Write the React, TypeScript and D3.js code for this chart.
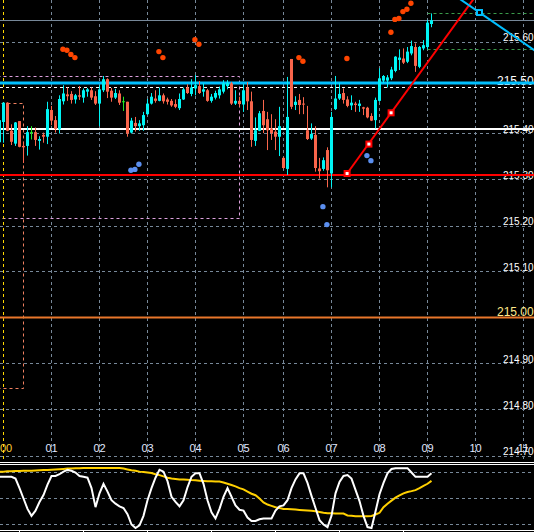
import React from "react";
import * as d3 from "d3";

const W = 534;
const H = 532;
const MAIN_BOTTOM = 462;
const SUB_TOP = 465;

// bar index of the first element in the OHLC arrays (5-minute bars, 0 = 00:00)
const firstBar = -1;
const opens = [215.381,215.425,215.467,215.406,215.378,215.427,215.373,215.373,215.402,215.403,215.384,215.397,215.393,215.451,215.429,215.409,215.470,215.485,215.486,215.474,215.483,215.478,215.491,215.494,215.481,215.465,215.494,215.518,215.493,215.478,215.487,215.469,215.469,215.402,215.423,215.416,215.418,215.442,215.465,215.476,215.471,215.483,215.474,215.471,215.464,215.455,215.474,215.500,215.486,215.498,215.503,215.491,215.494,215.471,215.478,215.483,215.491,215.503,215.509,215.465,215.471,215.463,215.500,215.470,215.384,215.406,215.449,215.431,215.411,215.404,215.393,215.347,215.323,215.562,215.462,215.473,215.465,215.407,215.389,215.397,215.324,215.323,215.364,215.313,215.453,215.476,215.488,215.474,215.461,215.465,215.460,215.457,215.456,215.438,215.429,215.471,215.515,215.515,215.520,215.536,215.560,215.563,215.556,215.574,215.588,215.545,215.585,215.588,215.638];
const highs = [215.433,215.468,215.468,215.420,215.425,215.427,215.382,215.416,215.416,215.413,215.394,215.402,215.469,215.460,215.438,215.483,215.505,215.500,215.492,215.486,215.503,215.498,215.499,215.500,215.492,215.505,215.525,215.520,215.499,215.497,215.494,215.480,215.469,215.434,215.436,215.429,215.447,215.475,215.488,215.494,215.500,215.487,215.478,215.475,215.474,215.487,215.500,215.507,215.518,215.527,215.514,215.509,215.497,215.486,215.493,215.502,215.516,215.516,215.512,215.494,215.480,215.507,215.512,215.491,215.435,215.449,215.473,215.447,215.442,215.431,215.458,215.349,215.523,215.562,215.481,215.486,215.479,215.460,215.422,215.416,215.347,215.348,215.370,215.447,215.525,215.510,215.498,215.481,215.483,215.469,215.473,215.458,215.458,215.444,215.478,215.542,215.527,215.527,215.545,215.568,215.583,215.585,215.588,215.602,215.596,215.590,215.603,215.647,215.661];
const lows = [215.372,215.380,215.405,215.375,215.373,215.370,215.336,215.352,215.387,215.373,215.365,215.380,215.377,215.418,215.402,215.400,215.463,215.471,215.465,215.465,215.473,215.467,215.480,215.473,215.462,215.416,215.490,215.477,215.469,215.475,215.462,215.449,215.393,215.400,215.404,215.406,215.406,215.440,215.463,215.467,215.470,215.465,215.463,215.458,215.455,215.451,215.473,215.486,215.481,215.483,215.486,215.480,215.469,215.467,215.474,215.476,215.487,215.496,215.462,215.462,215.458,215.447,215.451,215.371,215.373,215.405,215.401,215.364,215.386,215.364,215.351,215.323,215.310,215.453,215.451,215.442,215.442,215.386,215.386,215.317,215.302,215.319,215.283,215.283,215.451,215.473,215.465,215.457,215.451,215.447,215.447,215.440,215.433,215.427,215.411,215.469,215.510,215.500,215.516,215.533,215.538,215.551,215.553,215.570,215.534,215.542,215.581,215.583,215.631];
const closes = [215.429,215.467,215.406,215.382,215.424,215.371,215.370,215.403,215.402,215.386,215.388,215.393,215.453,215.428,215.410,215.475,215.487,215.481,215.473,215.483,215.480,215.494,215.496,215.478,215.465,215.496,215.518,215.491,215.478,215.488,215.467,215.469,215.400,215.428,215.416,215.422,215.440,215.465,215.480,215.471,215.483,215.470,215.469,215.461,215.458,215.475,215.496,215.488,215.500,215.505,215.488,215.496,215.471,215.480,215.488,215.496,215.509,215.510,215.465,215.471,215.464,215.494,215.470,215.386,215.407,215.444,215.418,215.407,215.401,215.393,215.416,215.325,215.436,215.458,215.469,215.462,215.463,215.388,215.399,215.325,215.318,215.342,215.320,215.436,215.476,215.486,215.473,215.460,215.467,215.462,215.465,215.454,215.435,215.428,215.473,215.520,215.525,215.522,215.539,215.567,215.565,215.554,215.578,215.590,215.547,215.588,215.592,215.641,215.646];

// oscillator sub-window (same bar indexing as above)
const oscMain = [75,75,75,75,73,62,50,38,30,36,46,54,66,76,76,78,81,83,82,80,76,75,74,62,40,56,67,58,48,44,41,39,32,20,16,19,30,48,62,74,83,81,70,52,46,41,48,63,75,79,79,67,48,34,27,38,52,62,52,42,37,36,28,24,24,26,27,27,27,36,41,42,48,62,72,79,79,68,53,39,25,20,17,30,56,69,76,77,73,60,47,30,17,16,35,55,68,79,84,85,85,85,85,80,75,75,75,75,79];
const oscSignal = [81,81,81.5,81.5,81.7,81.8,82,82,82,82.3,82.6,82.8,83,83.2,83.5,83.8,84.1,84.5,84.7,84.9,85,85.2,85.2,85.2,85.2,85.2,85.2,85.2,85.2,85.2,85.2,84.5,83.5,82.5,82,81,80.5,80,79.5,78,77,75.5,74,73,72.5,72,71.8,71.5,71.2,71,70.6,70.3,70,69.8,69.6,69.5,68.5,67,65.5,64,62,60.5,58,55.5,53.8,50,45.5,43,41.5,40,39,38,37.8,37.5,37.2,36.8,36.5,36.2,35.8,35.3,34.5,33.5,33,32.9,32.8,32.7,32.6,30.5,30,29.6,29.5,29.5,29.5,29.8,31.5,33.5,40,44,47.5,51,53.5,56,57.5,58.5,59.7,62,64.5,67,70.3];
const oscLevels = [80, 50, 20];

const timeLabels = ["00", "01", "02", "03", "04", "05", "06", "07", "08", "09", "10", "11"];
const timeLabelBars = [0, 12, 24, 36, 48, 60, 70, 82, 94, 106, 118, 130];
const priceTicks = [215.6, 215.5, 215.4, 215.3, 215.2, 215.1, 215.0, 214.9, 214.8, 214.7];
const priceTickLabels = ["215.60", "215.50", "215.40", "215.30", "215.20", "215.10", "215.00", "214.90", "214.80", "214.70"];
const bottomTickBars = [4, 20, 36, 52, 68, 84, 100];

const bidPrice = 215.646;
const levelCyan = 215.51;
const levelWhite = 215.41;
const levelRed = 215.31;
const levelOrange = 215.0;

const upDotBars = [15, 16, 17, 18, 39, 40, 48, 49, 74, 75, 86, 97, 98, 99, 100, 101, 102];
const upDotPrices = [215.583, 215.581, 215.572, 215.565, 215.578, 215.565, 215.604, 215.594, 215.565, 215.557, 215.563, 215.62, 215.648, 215.65, 215.665, 215.67, 215.683];
const downDotBars = [32, 33, 34, 80, 81, 91, 92];
const downDotPrices = [215.32, 215.322, 215.333, 215.241, 215.202, 215.352, 215.341];

const redTrendBars = [85.9, 91.35, 96.9];
const redTrendPrices = [215.313, 215.377, 215.445];
const cyanTrendBars = [119, 132.7];
const cyanTrendPrices = [215.663, 215.581];

const pinkBoxBars = [-3, 59];
const pinkBoxPrices = [215.524, 215.217];
const orangeBoxBars = [-5, 5];
const orangeBoxPrices = [215.467, 214.846];
const greenRangeBar = 106;
const greenRangePrices = [215.661, 215.583];
const separatorBar = 0;

export default function App() {
  const x = d3.scaleLinear().domain([0, 130]).range([3.5, 523.5]);
  const y = d3.scaleLinear().domain([214.7, 215.6]).range([455.5, 41.5]);
  const ys = d3.scaleLinear().domain([20, 80]).range([524.5, 472.5]);

  const bull = "#00f4f4";
  const bear = "#f9654b";
  const doji = "#22e622";
  const grid = "#778899";
  const font = "'Liberation Sans', Arial, sans-serif";

  const bars = opens.map((o, i) => ({ k: i + firstBar, o, h: highs[i], l: lows[i], c: closes[i] }));

  const lineOsc = d3
    .line<number>()
    .x((_, i) => x(i + firstBar))
    .y((d) => ys(d));

  const extend = (bs: number[], ps: number[], k0: number, k1: number) => {
    const slope = (ps[1] - ps[0]) / (bs[1] - bs[0]);
    const f = (k: number) => ps[0] + slope * (k - bs[0]);
    return d3.line<number>().x((k) => x(k)).y((k) => y(f(k)))([k0, k1]) || "";
  };

  const redPath = extend([redTrendBars[0], redTrendBars[2]], [redTrendPrices[0], redTrendPrices[2]], redTrendBars[0], 130);
  const cyanPath = extend(cyanTrendBars, cyanTrendPrices, 105, 140);

  const hLine = (p: number) => Math.round(y(p)) + 0.5;

  return (
    <svg
      width={W}
      height={H}
      style={{ position: "absolute", left: 0, top: 0, background: "#000" }}
      xmlns="http://www.w3.org/2000/svg"
    >
      <defs>
        <clipPath id="mainClip">
          <rect x={0} y={0} width={W} height={MAIN_BOTTOM} />
        </clipPath>
        <clipPath id="subClip">
          <rect x={0} y={SUB_TOP} width={W} height={H - SUB_TOP} />
        </clipPath>
      </defs>
      <rect x={0} y={0} width={W} height={H} fill="#000" />

      <g clipPath="url(#mainClip)">
        {/* grid */}
        {timeLabelBars.map((k) => (
          <line key={"vg" + k} x1={x(k)} x2={x(k)} y1={0} y2={MAIN_BOTTOM} stroke={grid} strokeDasharray="3,3" />
        ))}
        {priceTicks.map((p) => (
          <line
            key={"hg" + p}
            x1={0}
            x2={W}
            y1={hLine(p)}
            y2={hLine(p)}
            stroke={p === 215.5 ? "#ffffff" : grid}
            strokeDasharray="3,3"
          />
        ))}

        {/* boxes */}
        <rect
          x={x(pinkBoxBars[0])}
          y={hLine(pinkBoxPrices[0])}
          width={x(pinkBoxBars[1]) - x(pinkBoxBars[0])}
          height={hLine(pinkBoxPrices[1]) - hLine(pinkBoxPrices[0])}
          fill="none"
          stroke="#dda0dd"
          strokeDasharray="3,3"
        />
        <rect
          x={x(orangeBoxBars[0])}
          y={hLine(orangeBoxPrices[0])}
          width={x(orangeBoxBars[1]) - x(orangeBoxBars[0])}
          height={hLine(orangeBoxPrices[1]) - hLine(orangeBoxPrices[0])}
          fill="none"
          stroke="#f08060"
          strokeDasharray="3,3"
        />
        <line x1={x(separatorBar)} x2={x(separatorBar)} y1={0} y2={MAIN_BOTTOM} stroke="#ffd700" strokeDasharray="3,3" />

        {/* green range of the last bars */}
        {greenRangePrices.map((p) => (
          <line key={"gr" + p} x1={x(greenRangeBar)} x2={W} y1={hLine(p)} y2={hLine(p)} stroke="#3a9a4a" strokeDasharray="3,3" />
        ))}

        {/* price labels */}
        {priceTicks.map((p, i) =>
          p === 215.5 || p === 215.0 ? null : (
            <text key={"pl" + p} x={503} y={y(p) - 1} fill="#ffffff" fontFamily={font} fontSize={10}>
              {priceTickLabels[i]}
            </text>
          )
        )}
        <text x={497} y={84.5} fill="#ffffff" fontFamily={font} fontSize={12}>
          {priceTickLabels[1]}
        </text>
        <text x={497} y={316} fill="#ffe98a" fontFamily={font} fontSize={12}>
          {priceTickLabels[6]}
        </text>

        {/* time labels */}
        {timeLabels.map((t, i) => (
          <text
            key={"tl" + t}
            x={i === 0 ? 0 : x(timeLabelBars[i])}
            y={452}
            textAnchor={i === 0 ? "start" : "middle"}
            fill={i === 0 ? "#ffcc33" : "#e2e8ff"}
            fontFamily={font}
            fontSize={11}
          >
            {t}
          </text>
        ))}

        {/* horizontal levels */}
        <line x1={0} x2={W} y1={hLine(bidPrice)} y2={hLine(bidPrice)} stroke={grid} />
        <line x1={0} x2={W} y1={y(levelCyan)} y2={y(levelCyan)} stroke="#00bfff" strokeWidth={3} />
        <line x1={0} x2={W} y1={y(levelWhite)} y2={y(levelWhite)} stroke="#ffffff" strokeWidth={2} />
        <line x1={0} x2={W} y1={y(levelRed)} y2={y(levelRed)} stroke="#ff0000" strokeWidth={2} />
        <line x1={0} x2={W} y1={y(levelOrange)} y2={y(levelOrange)} stroke="#e8762b" strokeWidth={2} />

        {/* candles */}
        {bars.map((b) => {
          const col = b.c > b.o ? bull : b.c < b.o ? bear : doji;
          const cx = x(b.k);
          const top = y(Math.max(b.o, b.c));
          const bot = y(Math.min(b.o, b.c));
          return (
            <g key={"c" + b.k}>
              <line x1={cx} x2={cx} y1={y(b.h)} y2={y(b.l)} stroke={col} strokeWidth={1} />
              {b.c === b.o ? (
                <line x1={cx - 1.5} x2={cx + 1.5} y1={top} y2={top} stroke={col} strokeWidth={1} />
              ) : (
                <rect x={cx - 1.5} y={top} width={3} height={Math.max(1, bot - top)} fill={col} />
              )}
            </g>
          );
        })}

        {/* dots */}
        {upDotBars.map((k, i) => (
          <circle key={"ud" + i} cx={x(k) - 0.6} cy={y(upDotPrices[i])} r={2.7} fill="#ff4500" />
        ))}
        {downDotBars.map((k, i) => (
          <circle key={"dd" + i} cx={x(k) - 0.6} cy={y(downDotPrices[i])} r={2.7} fill="#5b8ff0" />
        ))}

        {/* trend lines */}
        <path d={redPath} stroke="#ff0000" strokeWidth={2} fill="none" />
        {redTrendBars.map((k, i) => (
          <rect key={"rm" + i} x={x(k) - 2.5} y={y(redTrendPrices[i]) - 2.5} width={5} height={5} fill="#ffffff" stroke="#ff0000" strokeWidth={2} />
        ))}
        <path d={cyanPath} stroke="#00bfff" strokeWidth={2} fill="none" />
        <rect x={x(cyanTrendBars[0]) - 2.5} y={y(cyanTrendPrices[0]) - 2.5} width={5} height={5} fill="#000" stroke="#00bfff" strokeWidth={2} />
      </g>

      {/* window separator */}
      <line x1={0} x2={W} y1={462.5} y2={462.5} stroke="#ffffff" />
      <line x1={0} x2={W} y1={464.5} y2={464.5} stroke="#ffffff" />

      <g clipPath="url(#subClip)">
        {oscLevels.map((v) => (
          <line key={"ol" + v} x1={0} x2={W} y1={ys(v)} y2={ys(v)} stroke={grid} strokeDasharray="3,3" />
        ))}
        <path d={lineOsc(oscSignal) || ""} stroke="#ffd000" strokeWidth={2} fill="none" />
        <path d={lineOsc(oscMain) || ""} stroke="#ffffff" strokeWidth={2} fill="none" />
        <line x1={0} x2={W} y1={530.5} y2={530.5} stroke="#ffffff" />
        {bottomTickBars.map((k) => (
          <line key={"bt" + k} x1={x(k)} x2={x(k)} y1={530} y2={532} stroke="#ffffff" />
        ))}
      </g>
    </svg>
  );
}
